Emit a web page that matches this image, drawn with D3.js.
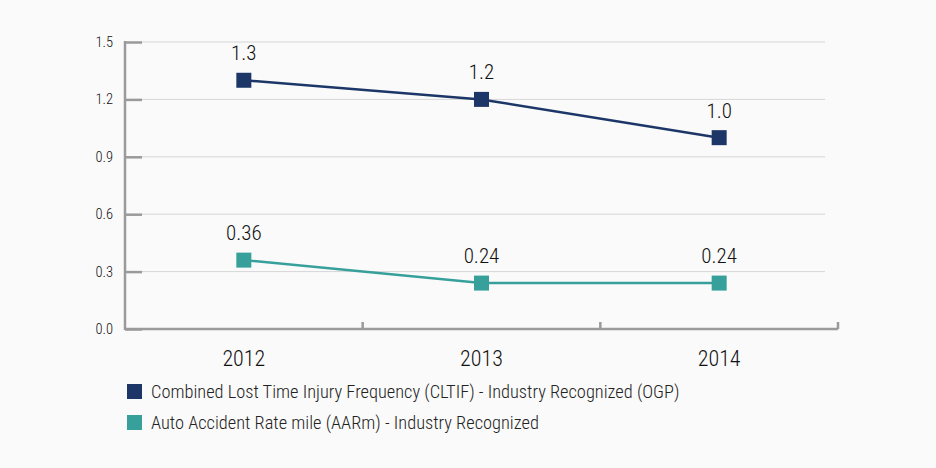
<!DOCTYPE html>
<html>
<head>
<meta charset="utf-8">
<script src="https://cdn.jsdelivr.net/npm/d3@7"></script>
<style>
  html, body { margin: 0; padding: 0; background: #fafafa; }
  svg { display: block; font-family: "Roboto Condensed", "Liberation Sans Narrow", Roboto, sans-serif; font-weight: 300; }
</style>
</head>
<body>
<svg width="936" height="468"></svg>
<script>
var years = ["2012", "2013", "2014"];
var cltif = [1.3, 1.2, 1.0];
var aarm = [0.36, 0.24, 0.24];
var cltifLabels = ["1.3", "1.2", "1.0"];
var aarmLabels = ["0.36", "0.24", "0.24"];
var yTicks = [0.0, 0.3, 0.6, 0.9, 1.2, 1.5];
var legendNames = [
  "Combined Lost Time Injury Frequency (CLTIF) - Industry Recognized (OGP)",
  "Auto Accident Rate mile (AARm) - Industry Recognized"
];

var navy = "#1c3767", teal = "#37a09b", axisGray = "#9a9a9a";

var svg = d3.select("svg");
var g = svg.append("g");

var x = d3.scaleBand().domain(years).range([125, 838]);
var y = d3.scaleLinear().domain([0, 1.5]).range([329, 42]);

// gridlines
g.selectAll("line.grid")
  .data(yTicks.slice(1))
  .enter().append("line")
  .attr("x1", 142).attr("x2", 825)
  .attr("y1", function(d) { return y(d); })
  .attr("y2", function(d) { return y(d); })
  .style("stroke", "#d6d6d6")
  .style("stroke-width", 1);

// y axis
var yAxis = d3.axisRight(y).tickValues(yTicks).tickSize(17).tickFormat("");
var ya = g.append("g").attr("transform", "translate(125,0)").call(yAxis);
ya.select(".domain").remove();
ya.selectAll(".tick line").style("stroke", axisGray).style("stroke-width", 2.5);
g.append("line")
  .attr("x1", 125).attr("x2", 125)
  .attr("y1", y(1.5) - 1).attr("y2", y(0) + 1)
  .style("stroke", axisGray).style("stroke-width", 2.5);

g.selectAll("text.ylab")
  .data(yTicks)
  .enter().append("text")
  .attr("x", 113)
  .attr("y", function(d) { return y(d) + 5; })
  .attr("text-anchor", "end")
  .style("font-size", "14.5px")
  .style("fill", "#111")
  .text(function(d) { return d.toFixed(1); });

// x axis
g.append("line")
  .attr("x1", 125).attr("x2", 838)
  .attr("y1", y(0)).attr("y2", y(0))
  .style("stroke", axisGray).style("stroke-width", 2.5);
g.selectAll("line.xtick")
  .data(years)
  .enter().append("line")
  .attr("x1", function(d) { return x(d) + x.bandwidth(); })
  .attr("x2", function(d) { return x(d) + x.bandwidth(); })
  .attr("y1", y(0)).attr("y2", y(0) - 7)
  .style("stroke", axisGray).style("stroke-width", 2.5);

g.selectAll("text.xlab")
  .data(years)
  .enter().append("text")
  .attr("x", function(d) { return x(d) + x.bandwidth() / 2; })
  .attr("y", 366)
  .attr("text-anchor", "middle")
  .style("font-size", "22px")
  .style("fill", "#111")
  .text(function(d) { return d; });

function cx(i) { return x(years[i]) + x.bandwidth() / 2; }

function drawSeries(vals, labels, color) {
  var line = d3.line()
    .x(function(d, i) { return cx(i); })
    .y(function(d) { return y(d); });
  g.append("path")
    .datum(vals)
    .attr("d", line)
    .style("fill", "none")
    .style("stroke", color)
    .style("stroke-width", 2.5);
  g.selectAll(null)
    .data(vals)
    .enter().append("rect")
    .attr("x", function(d, i) { return cx(i) - 7.5; })
    .attr("y", function(d) { return y(d) - 7.5; })
    .attr("width", 15).attr("height", 15)
    .style("fill", color);
  g.selectAll(null)
    .data(vals)
    .enter().append("text")
    .attr("x", function(d, i) { return cx(i); })
    .attr("y", function(d) { return y(d) - 20; })
    .attr("text-anchor", "middle")
    .style("font-size", "21px")
    .style("fill", "#111")
    .text(function(d, i) { return labels[i]; });
}
drawSeries(cltif, cltifLabels, navy);
drawSeries(aarm, aarmLabels, teal);

// legend
var legend = g.selectAll("g.legend")
  .data(legendNames)
  .enter().append("g")
  .attr("transform", function(d, i) { return "translate(127," + (384 + i * 31) + ")"; });
legend.append("rect")
  .attr("width", 15).attr("height", 15)
  .style("fill", function(d, i) { return i == 0 ? navy : teal; });
legend.append("text")
  .attr("x", 24).attr("y", 14)
  .style("font-size", "18.4px")
  .style("fill", "#222")
  .text(function(d) { return d; });
</script>
</body>
</html>
